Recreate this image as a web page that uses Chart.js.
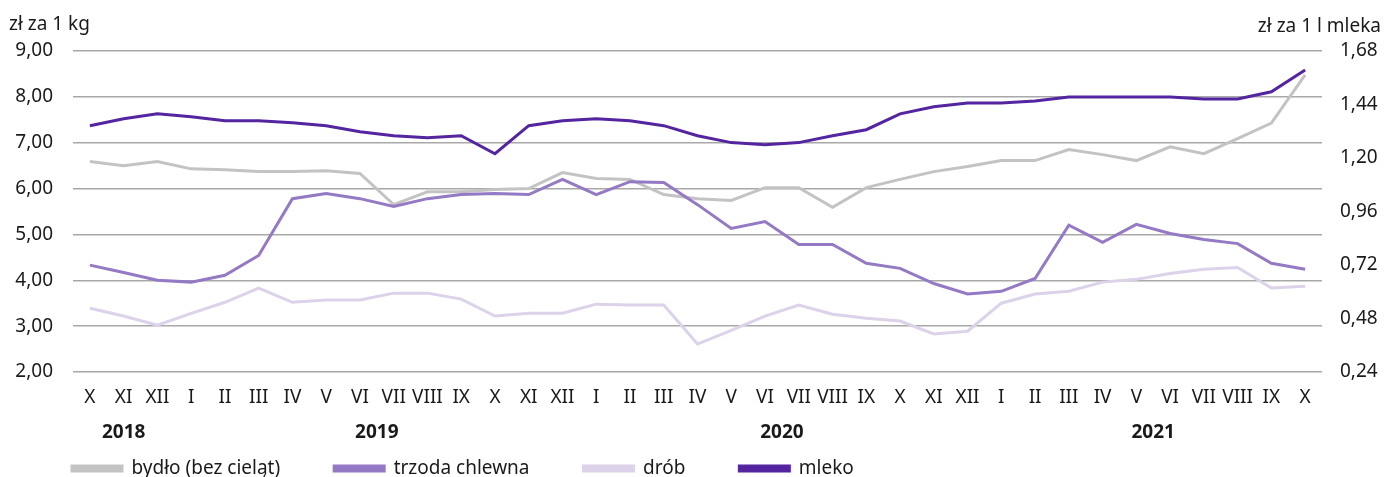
<!DOCTYPE html>
<html>
<head>
<meta charset="utf-8">
<script src="https://cdn.jsdelivr.net/npm/chart.js@4"></script>
<style>
  html, body { margin: 0; padding: 0; background: #fff; }
  #wrap { width: 1400px; height: 477px; }
</style>
</head>
<body>
<div id="wrap"><canvas id="myChart" width="1400" height="477"></canvas></div>
<script>
const months = ['X', 'XI', 'XII',
    'I', 'II', 'III', 'IV', 'V', 'VI', 'VII', 'VIII', 'IX', 'X', 'XI', 'XII',
    'I', 'II', 'III', 'IV', 'V', 'VI', 'VII', 'VIII', 'IX', 'X', 'XI', 'XII',
    'I', 'II', 'III', 'IV', 'V', 'VI', 'VII', 'VIII', 'IX', 'X'];
const years = ['2018', '2019', '2020', '2021'];

// zł za 1 kg
const bydlo = [6.59, 6.50, 6.59, 6.43, 6.41, 6.37, 6.37, 6.39, 6.33, 5.65, 5.93, 5.93,
    5.98, 6.00, 6.35, 6.22, 6.20, 5.87, 5.78, 5.74, 6.02, 6.02, 5.59, 6.02,
    6.20, 6.37, 6.48, 6.61, 6.61, 6.85, 6.74, 6.61, 6.91, 6.76, 7.09, 7.43, 8.48];
const trzoda = [4.33, 4.17, 4.00, 3.96, 4.11, 4.54, 5.78, 5.89, 5.78, 5.61, 5.78, 5.87,
    5.89, 5.87, 6.20, 5.87, 6.15, 6.13, 5.65, 5.13, 5.28, 4.78, 4.78, 4.37,
    4.26, 3.93, 3.70, 3.76, 4.04, 5.20, 4.83, 5.22, 5.02, 4.89, 4.80, 4.37, 4.24];
const drob = [3.39, 3.22, 3.02, 3.28, 3.52, 3.83, 3.52, 3.57, 3.57, 3.72, 3.72, 3.59,
    3.22, 3.28, 3.28, 3.48, 3.46, 3.46, 2.61, 2.91, 3.22, 3.46, 3.26, 3.17,
    3.11, 2.83, 2.89, 3.50, 3.70, 3.76, 3.96, 4.02, 4.15, 4.24, 4.28, 3.83, 3.87];
// zł za 1 l mleka
const mleko = [1.345, 1.376, 1.398, 1.385, 1.367, 1.367, 1.358, 1.345, 1.318, 1.300, 1.291, 1.300,
    1.219, 1.345, 1.367, 1.376, 1.367, 1.345, 1.300, 1.269, 1.260, 1.269, 1.300, 1.327,
    1.398, 1.430, 1.447, 1.447, 1.456, 1.474, 1.474, 1.474, 1.474, 1.465, 1.465, 1.497, 1.595];

const FONT = '"Noto Sans", sans-serif';
const FS = 19;
const TEXT = '#1a1a1a';

function fmt(v) {
    return Number(v).toFixed(2).replace('.', ',');
}

// year labels under the month ticks + axis unit captions
const extraText = {
    id: 'extraText',
    afterLayout(chart) {
        // legend starts under the plot, not at the canvas edge
        if (chart.legend) chart.legend.left = 18;
    },
    afterDraw(chart) {
        const ctx = chart.ctx;
        const x = chart.scales.x;
        ctx.save();
        ctx.fillStyle = TEXT;
        ctx.textBaseline = 'middle';
        ctx.textAlign = 'center';
        ctx.font = 'bold ' + FS + 'px ' + FONT;
        // split months into years (new year starts at 'I')
        const spans = [];
        let start = 0;
        months.forEach((m, i) => {
            if (m === 'I' && i > 0) { spans.push([start, i - 1]); start = i; }
        });
        spans.push([start, months.length - 1]);
        spans.forEach((s, k) => {
            const px = (x.getPixelForValue(s[0]) + x.getPixelForValue(s[1])) / 2;
            ctx.fillText(years[k], px, 433);
        });
        ctx.font = FS + 'px ' + FONT;
        ctx.textBaseline = 'alphabetic';
        ctx.textAlign = 'left';
        ctx.fillText('zł za 1 kg', 9, 30);
        ctx.textAlign = 'right';
        ctx.fillText('zł za 1 l mleka', 1381, 32);
        ctx.restore();
    }
};

const ctx = document.getElementById('myChart').getContext('2d');
const myChart = new Chart(ctx, {
    type: 'line',
    data: {
        labels: months,
        datasets: [
            { label: 'bydło (bez cieląt)', data: bydlo, yAxisID: 'y', borderColor: '#c3c3c3', backgroundColor: '#c3c3c3', order: 4 },
            { label: 'trzoda chlewna', data: trzoda, yAxisID: 'y', borderColor: '#9479c4', backgroundColor: '#9479c4', order: 2 },
            { label: 'drób', data: drob, yAxisID: 'y', borderColor: '#dcd2ea', backgroundColor: '#dcd2ea', order: 3 },
            { label: 'mleko', data: mleko, yAxisID: 'y1', borderColor: '#5425a0', backgroundColor: '#5425a0', order: 1 }
        ]
    },
    options: {
        responsive: false,
        animation: false,
        elements: {
            line: { borderWidth: 3, tension: 0 },
            point: { radius: 0 }
        },
        layout: { padding: { left: 8, right: 0, top: 51, bottom: -11 } },
        plugins: {
            tooltip: { enabled: false },
            legend: {
                position: 'bottom',
                align: 'start',
                labels: {
                    boxWidth: 50,
                    boxHeight: 5,
                    padding: 54,
                    color: TEXT,
                    font: { family: FONT, size: FS },
                    sort: (a, b) => a.datasetIndex - b.datasetIndex
                }
            }
        },
        scales: {
            x: {
                offset: true,
                grid: { display: false, drawTicks: false },
                border: { display: false },
                ticks: {
                    color: TEXT,
                    padding: 14,
                    maxRotation: 0,
                    autoSkip: false,
                    font: { family: FONT, size: FS }
                },
                afterFit: (scale) => { scale.height = 33; }
            },
            y: {
                position: 'left',
                min: 2,
                max: 9,
                grid: { color: '#a8a8a8', lineWidth: 1.5, drawTicks: false },
                border: { display: false },
                ticks: {
                    stepSize: 1,
                    color: TEXT,
                    padding: 20,
                    font: { family: FONT, size: FS },
                    callback: (v) => fmt(v)
                },
                afterFit: (scale) => { scale.width = 65; }
            },
            y1: {
                position: 'right',
                min: 0.24,
                max: 1.68,
                grid: { display: false, drawTicks: false },
                border: { display: false },
                ticks: {
                    stepSize: 0.24,
                    color: TEXT,
                    padding: 18,
                    font: { family: FONT, size: FS },
                    callback: (v) => fmt(v)
                },
                afterFit: (scale) => { scale.width = 78; }
            }
        }
    },
    plugins: [extraText]
});
</script>
</body>
</html>
